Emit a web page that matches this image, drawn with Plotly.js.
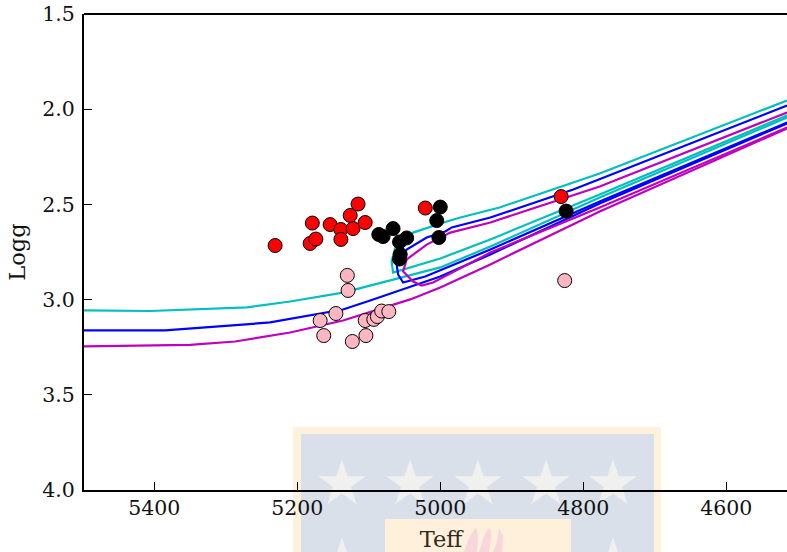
<!DOCTYPE html>
<html>
<head>
<meta charset="utf-8">
<script src="https://cdn.plot.ly/plotly-3.0.1.min.js"></script>
<style>html,body{margin:0;padding:0;background:#fff;overflow:hidden;width:787px;height:552px}</style>
</head>
<body>
<div id="chart" style="width:787px;height:552px;overflow:hidden"></div>
<script>
// Isochrone tracks: Teff / log g (null separates the lower branch from the hook branch)
var cyanTeff = [5500,5406,5270,5210,5136,5061,5000,4930,4777,4515,null,
                4515,4777,4847,4917,4972,4991,5038,5063,5068,5066,5000,4930,4777,4515];
var cyanLogg = [3.057,3.060,3.041,3.010,2.963,2.889,2.831,2.721,2.464,2.044,null,
                1.954,2.338,2.427,2.516,2.569,2.590,2.648,2.726,2.800,2.858,2.784,2.684,2.448,2.033];
var blueTeff = [5500,5385,5238,5136,5098,5056,5000,4930,4777,4515,null,
                4515,4777,4814,4930,4984,4993,5019,5047,5061,5059,5052,5021,4930,4777,4515];
var blueLogg = [3.162,3.162,3.120,3.052,3.005,2.952,2.879,2.763,2.495,2.075,null,
                1.981,2.369,2.422,2.569,2.621,2.642,2.674,2.737,2.816,2.868,2.910,2.879,2.737,2.485,2.070];
var magentaTeff = [5500,5350,5287,5210,5136,5042,5000,4930,4777,4515,null,
                4515,4777,4930,4986,5019,5047,5052,5038,5026,5010,4930,4777,4515];
var magentaLogg = [3.246,3.238,3.220,3.173,3.110,2.999,2.936,2.815,2.537,2.101,null,
                2.017,2.406,2.595,2.648,2.711,2.789,2.852,2.905,2.926,2.910,2.753,2.516,2.096];

// Stars
var redTeff = [5231,5182,5174,5179,5154,5139,5139,5122,5126,5115,5105,5021,4831];
var redLogg = [2.716,2.705,2.682,2.598,2.606,2.632,2.684,2.627,2.558,2.498,2.595,2.519,2.459];
var blackTeff = [5086,5080,5066,5057,5047,5056,5057,5005,5000,5002,4824];
var blackLogg = [2.658,2.669,2.627,2.697,2.676,2.763,2.787,2.585,2.514,2.674,2.535];
var pinkTeff = [5130,5129,5146,5168,5163,5123,5104,5105,5093,5088,5082,5072,4826];
var pinkLogg = [2.873,2.952,3.073,3.110,3.189,3.220,3.189,3.110,3.104,3.089,3.060,3.063,2.900];

var xTicks = [5400,5200,5000,4800,4600];
var yTicks = [1.5,2.0,2.5,3.0,3.5,4.0];

var W = 798, H = 552, L = 84, T = 14, B = 62;
var plotW = W - L, plotH = H - T - B;
function px(x){ return ((x - L) / plotW).toFixed(5); }
function py(y){ return ((H - B - y) / plotH).toFixed(5); }
function rect(x0, y0, x1, y1, color){
  return {type:'rect', xref:'paper', yref:'paper', layer:'below', x0:px(x0), x1:px(x1), y0:py(y1), y1:py(y0),
          fillcolor:color, line:{width:0}};
}
function star(cx, cy, R, color){
  var d = '', i;
  for (i = 0; i < 10; i++){
    var r = i % 2 ? R * 0.382 : R;
    var a = -Math.PI / 2 + i * Math.PI / 5;
    d += (i ? 'L' : 'M') + px(cx + r * Math.cos(a)) + ',' + py(cy + r * Math.sin(a));
  }
  return {type:'path', xref:'paper', yref:'paper', layer:'below', path:d + 'Z', fillcolor:color, line:{width:0}};
}
function poly(points, color){
  var d = points.map(function(p, i){ return (i ? 'L' : 'M') + px(p[0]) + ',' + py(p[1]); }).join('');
  return {type:'path', xref:'paper', yref:'paper', layer:'below', path:d + 'Z', fillcolor:color, line:{width:0}};
}

var shapes = [
  rect(293, 427, 661, 552, '#fef2dd'),
  rect(301, 434, 654, 552, '#d9e0e9')
];
[342, 410, 478, 546, 613].forEach(function(c){ shapes.push(star(c, 484, 25, '#f0f0ef')); });
[342, 613].forEach(function(c){ shapes.push(star(c, 562, 25, '#f0f0ef')); });
shapes.push(rect(385, 519, 571, 552, '#fef0da'));
shapes.push(poly([[464,552],[468,540],[474,530],[476,527],[478,536],[477,552]], '#f9d5dc'));
shapes.push(poly([[479,552],[484,536],[489,528],[491,530],[491,540],[489,552]], '#f9d5dc'));
shapes.push(poly([[493,552],[497,542],[499,528],[503,536],[502,552]], '#f9d5dc'));
// top spine
shapes.push({type:'line', xref:'paper', yref:'paper', layer:'above', x0:0, x1:1, y0:1, y1:1, line:{color:'#000', width:2}});

function track(x, y, c){
  return {type:'scatter', mode:'lines', x:x, y:y, connectgaps:false, hoverinfo:'skip', line:{color:c, width:2.2}};
}
function dots(x, y, c){
  return {type:'scatter', mode:'markers', x:x, y:y, marker:{color:c, size:14, line:{color:'#000', width:1}}};
}
var traces = [
  track(cyanTeff, cyanLogg, '#00bfbf'),
  track(blueTeff, blueLogg, '#0000ff'),
  track(magentaTeff, magentaLogg, '#bf00bf'),
  dots(redTeff, redLogg, '#ff0000'),
  dots(pinkTeff, pinkLogg, '#ffb6c1'),
  dots(blackTeff, blackLogg, '#000000')
];
var font = {family:'"DejaVu Serif", serif', size:20.5, color:'#111'};
var layout = {
  width:W, height:H, showlegend:false, paper_bgcolor:'#fff', plot_bgcolor:'rgba(0,0,0,0)',
  margin:{l:L, r:0, t:T, b:B, pad:0}, font:font, shapes:shapes,
  xaxis:{range:[5498.3,4499.7], tickmode:'array', tickvals:xTicks, ticktext:xTicks.map(String),
         ticks:'inside', ticklen:8, tickwidth:1, tickcolor:'#000', showgrid:false, zeroline:false,
         showline:true, linecolor:'#000', linewidth:2, tickfont:font, ticklabelstandoff:-2,
         title:{text:'Teff', font:{family:font.family, size:22.5, color:'#33281c'}, standoff:13}},
  yaxis:{range:[4.0,1.5], tickmode:'array', tickvals:yTicks, ticktext:yTicks.map(function(v){return v.toFixed(1);}),
         ticks:'inside', ticklen:8, tickwidth:1, tickcolor:'#000', showgrid:false, zeroline:false,
         showline:true, linecolor:'#000', linewidth:2, tickfont:font, ticklabelstandoff:3,
         title:{text:'Logg', font:{family:font.family, size:22.5, color:'#111'}, standoff:10}}
};
Plotly.newPlot('chart', traces, layout, {displayModeBar:false, staticPlot:true});
</script>
</body>
</html>
